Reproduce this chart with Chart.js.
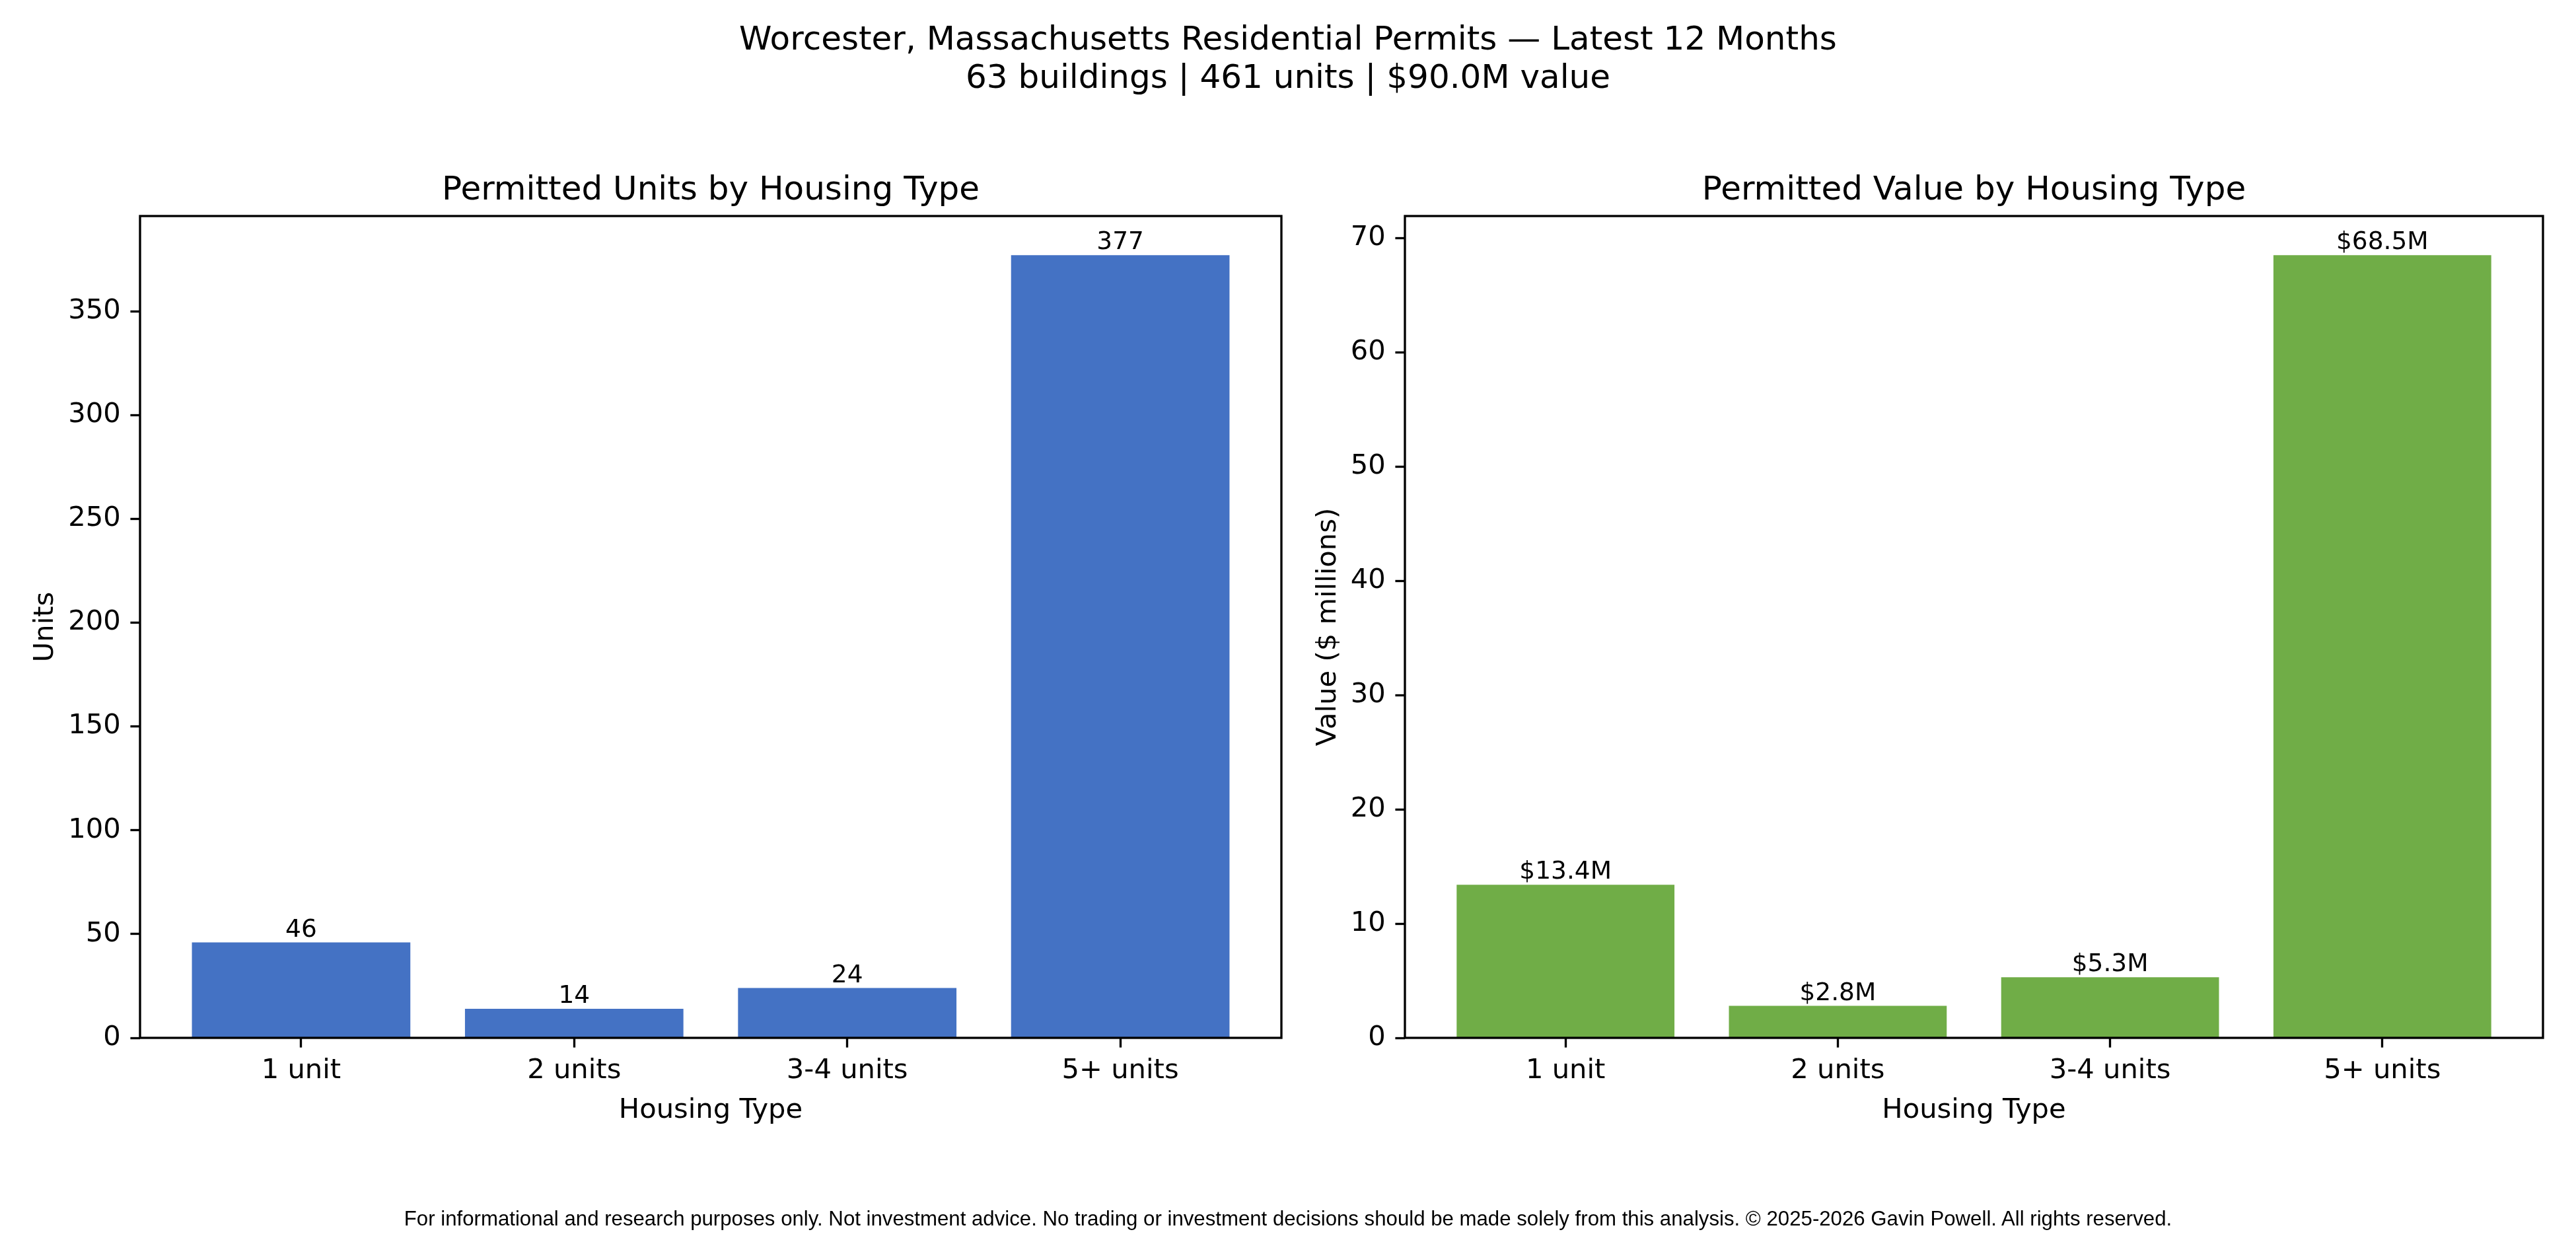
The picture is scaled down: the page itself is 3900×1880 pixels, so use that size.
<!DOCTYPE html>
<html>
<head>
<meta charset="utf-8">
<script src="https://cdn.jsdelivr.net/npm/chart.js@4.4.1/dist/chart.umd.min.js"></script>
<style>
html, body { margin: 0; padding: 0; background: #fff; }
body { width: 3900px; height: 1880px; position: relative; overflow: hidden; font-family: "DejaVu Sans", sans-serif; color: #000; }
#suptitle { position: absolute; left: 0; top: 29px; width: 3900px; text-align: center; font-size: 50px; line-height: 58px; }
#footer { position: absolute; left: 0; top: 1827px; width: 3900px; text-align: center; font-family: "Liberation Sans", Arial, sans-serif; font-size: 31.2px; line-height: 35px; }
canvas { position: absolute; top: 0; }
#unitsChart { left: 0; }
#valueChart { left: 1975px; }
</style>
</head>
<body>
<div id="suptitle">Worcester, Massachusetts Residential Permits — Latest 12 Months<br>63 buildings | 461 units | $90.0M value</div>
<canvas id="unitsChart" width="1975" height="1880"></canvas>
<canvas id="valueChart" width="1925" height="1880"></canvas>
<div id="footer">For informational and research purposes only. Not investment advice. No trading or investment decisions should be made solely from this analysis. © 2025-2026 Gavin Powell. All rights reserved.</div>

<script>
// Data
const housingTypes = ['1 unit', '2 units', '3-4 units', '5+ units'];
const unitCounts = [46, 14, 24, 377];
const valueMillions = [13.4, 2.8, 5.3, 68.5];
const unitTicks = [0, 50, 100, 150, 200, 250, 300, 350];
const valueTicks = [0, 10, 20, 30, 40, 50, 60, 70];

const PT = 300 / 72;   // one point in pixels
const FONT = "'DejaVu Sans', sans-serif";
const FIG_H = 1880;
const AXES_TOP = 327;
const AXES_BOTTOM = 1571;

Chart.defaults.font.family = FONT;
Chart.defaults.color = '#000';

// Black box around the plot area (matplotlib spines)
const framePlugin = {
    id: 'frame',
    afterDraw(chart) {
        const { ctx, chartArea: a } = chart;
        ctx.save();
        ctx.strokeStyle = '#000';
        ctx.lineWidth = 0.8 * PT;
        ctx.strokeRect(a.left, a.top, a.right - a.left, a.bottom - a.top);
        ctx.restore();
    }
};

// Subplot title centred over the plot area, not the canvas
const axesTitlePlugin = {
    id: 'axesTitle',
    afterDraw(chart) {
        const { ctx, chartArea: a } = chart;
        ctx.save();
        ctx.font = `${12 * PT}px ${FONT}`;
        ctx.fillStyle = '#000';
        ctx.textAlign = 'center';
        ctx.textBaseline = 'alphabetic';
        ctx.fillText(chart.data.datasets[0].axesTitle, (a.left + a.right) / 2, a.top - 6 * PT);
        ctx.restore();
    }
};

// Value labels on top of each bar
const barLabelPlugin = {
    id: 'barLabels',
    afterDatasetsDraw(chart) {
        const { ctx } = chart;
        const ds = chart.data.datasets[0];
        const meta = chart.getDatasetMeta(0);
        const size = 9 * PT;
        ctx.save();
        ctx.font = `${size}px ${FONT}`;
        ctx.fillStyle = '#000';
        ctx.textAlign = 'center';
        ctx.textBaseline = 'alphabetic';
        meta.data.forEach((bar, i) => {
            ctx.fillText(ds.barLabels[i], bar.x, bar.y - 0.236 * size);
        });
        ctx.restore();
    }
};

function makeChart(id, cfg) {
    const n = cfg.values.length;
    const xPad = 0.05 * (n - 1 + 0.8);
    const yMax = Math.max(...cfg.values) * 1.05;
    const tickFont = { family: FONT, size: 10 * PT };
    const tickGrid = {
        display: true, offset: false, drawOnChartArea: false, drawTicks: true,
        tickLength: 3.5 * PT, tickWidth: 0.8 * PT, tickColor: '#000'
    };

    return new Chart(document.getElementById(id), {
        type: 'bar',
        data: {
            datasets: [{
                data: cfg.values.map((v, i) => ({ x: i, y: v })),
                backgroundColor: cfg.color,
                borderWidth: 0,
                categoryPercentage: 1,
                barPercentage: 0.8,
                barLabels: cfg.values.map(cfg.format),
                axesTitle: cfg.title
            }]
        },
        options: {
            responsive: false,
            devicePixelRatio: 1,
            animation: false,
            events: [],
            layout: { padding: { left: 0, right: cfg.rightPad, top: AXES_TOP, bottom: 0 } },
            plugins: {
                legend: { display: false },
                tooltip: { enabled: false },
                title: { display: false }
            },
            scales: {
                x: {
                    type: 'linear',
                    min: -0.4 - xPad,
                    max: n - 1 + 0.4 + xPad,
                    offset: false,
                    grid: tickGrid,
                    border: { display: false },
                    ticks: {
                        autoSkip: false,
                        maxRotation: 0,
                        padding: 11,
                        color: '#000',
                        font: tickFont,
                        callback: v => housingTypes[v]
                    },
                    afterBuildTicks: s => { s.ticks = housingTypes.map((_, i) => ({ value: i })); },
                    afterFit: s => { s.height = FIG_H - AXES_BOTTOM; },
                    title: {
                        display: true,
                        text: 'Housing Type',
                        color: '#000',
                        font: tickFont,
                        padding: { top: 0, bottom: 174 }
                    }
                },
                y: {
                    type: 'linear',
                    min: 0,
                    max: yMax,
                    grid: tickGrid,
                    border: { display: false },
                    ticks: {
                        padding: 3.5 * PT,
                        color: '#000',
                        font: tickFont,
                        callback: v => String(v)
                    },
                    afterBuildTicks: s => { s.ticks = cfg.ticks.map(v => ({ value: v })); },
                    afterFit: s => { s.width = cfg.yAxisWidth; },
                    title: {
                        display: true,
                        text: cfg.yTitle,
                        color: '#000',
                        font: tickFont,
                        padding: { top: cfg.yTitlePad, bottom: 0 }
                    }
                }
            }
        },
        plugins: [framePlugin, axesTitlePlugin, barLabelPlugin]
    });
}

makeChart('unitsChart', {
    values: unitCounts,
    ticks: unitTicks,
    color: '#4472C4',
    title: 'Permitted Units by Housing Type',
    yTitle: 'Units',
    format: v => String(v),
    yAxisWidth: 212,
    yTitlePad: 44,
    rightPad: 35
});

makeChart('valueChart', {
    values: valueMillions,
    ticks: valueTicks,
    color: '#70AD47',
    title: 'Permitted Value by Housing Type',
    yTitle: 'Value ($ millions)',
    format: v => '$' + v.toFixed(1) + 'M',
    yAxisWidth: 152,
    yTitlePad: 11,
    rightPad: 50
});
</script>
</body>
</html>
